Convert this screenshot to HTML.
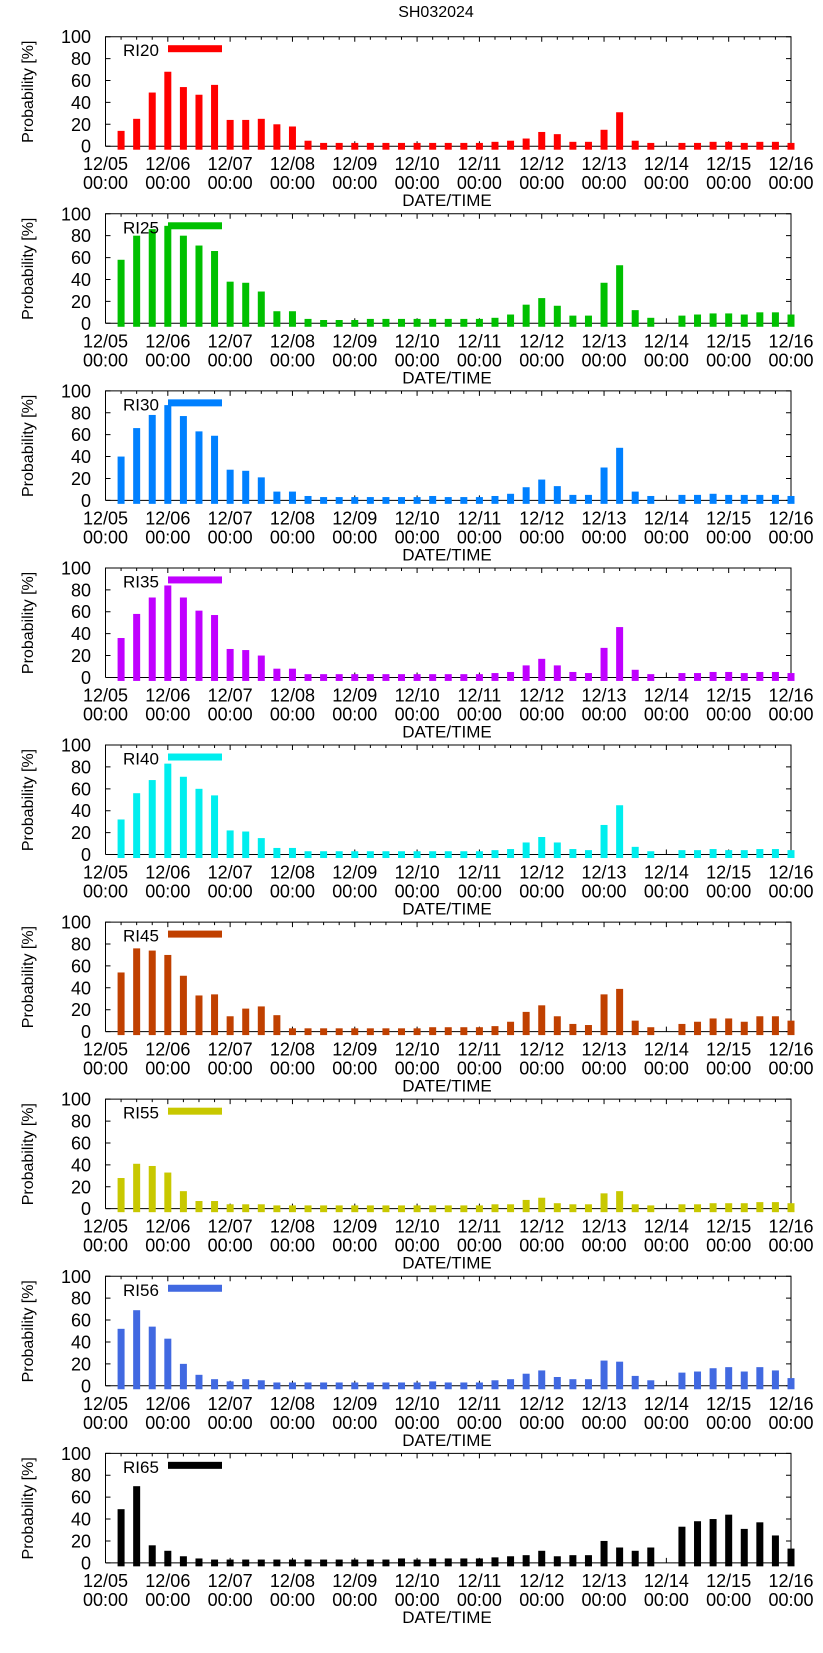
<!DOCTYPE html>
<html><head><meta charset="utf-8"><title>SH032024</title>
<style>
html,body{margin:0;padding:0;background:#fff;}
svg{display:block;font-family:"Liberation Sans",sans-serif;}
</style></head>
<body>
<svg id="chart" width="823" height="1653" viewBox="0 0 823 1653" xmlns="http://www.w3.org/2000/svg">
<text x="436" y="17" text-anchor="middle" font-size="16">SH032024</text>
</svg>
<script>
const panelNames = ["RI20","RI25","RI30","RI35","RI40","RI45","RI55","RI56","RI65"];
const panelColors = ["#ff0000","#00c000","#0080ff","#c000ff","#00eeee","#c04000","#c8c800","#4169e1","#000000"];
const ri20 = [14,25,49,68,54,47,56,24,24,25,20,18,5,3,3,3,3,3,3,3,3,3,3,3,4,5,7,13,11,4,4,15,31,5,3,0,3,3,4,4,3,4,4,3];
const ri25 = [58,80,86,89,80,71,66,38,37,29,11,11,4,3,3,3,4,4,4,4,4,4,4,4,5,8,17,23,16,7,7,37,53,12,5,0,7,8,9,9,8,10,10,8];
const ri30 = [40,66,78,87,77,63,59,28,27,21,8,8,4,3,3,3,3,3,3,3,4,3,3,3,4,6,12,19,13,5,5,30,48,8,4,0,5,5,6,5,5,5,5,4];
const ri35 = [36,58,73,84,73,61,57,26,25,20,8,8,3,3,3,3,3,3,3,3,3,3,3,3,4,5,11,17,11,5,4,27,46,7,3,0,4,4,5,5,4,5,5,4];
const ri40 = [32,56,68,83,71,60,54,22,21,15,6,6,3,3,3,3,3,3,3,3,3,3,3,3,4,5,11,16,11,5,4,27,45,7,3,0,4,4,5,4,4,5,5,4];
const ri45 = [54,76,74,70,51,33,34,14,21,23,15,3,3,3,3,3,3,3,3,3,4,4,4,4,5,9,18,24,14,7,6,34,39,10,4,0,7,9,12,12,9,14,14,10];
const ri55 = [28,41,39,33,16,7,7,4,4,4,3,3,3,3,3,3,3,3,3,3,3,3,3,3,4,4,8,10,5,4,4,14,16,4,3,0,4,4,5,5,5,6,6,5];
const ri56 = [52,69,54,43,20,10,6,4,6,5,3,3,3,3,3,3,3,3,3,3,4,3,3,3,5,6,11,14,8,6,6,23,22,9,5,0,12,13,16,17,13,17,14,7];
const ri65 = [49,70,16,11,6,4,3,3,3,3,3,3,3,3,3,3,3,3,4,3,4,4,4,4,5,6,7,11,6,7,7,20,14,11,14,0,33,38,40,44,31,37,25,13];
const seriesValues = [ri20,ri25,ri30,ri35,ri40,ri45,ri55,ri56,ri65];
const yTickLabels = ["0","20","40","60","80","100"];
const yTickValues = [0,20,40,60,80,100];
const dateLabels = ["12/05","12/06","12/07","12/08","12/09","12/10","12/11","12/12","12/13","12/14","12/15","12/16"];
const timeLabel = "00:00";

const svg = document.getElementById('chart');
const NS = "http://www.w3.org/2000/svg";
const X0 = 105.5, X1 = 791, PH = 109.5, TOP0 = 36.7, STEP = 177.08;
const NDAYS = dateLabels.length - 1;
const BARW = 7;
function xHours(h){ return X0 + (X1 - X0) * h / (NDAYS * 24); }
function mk(tag, attrs){ const e = document.createElementNS(NS, tag); for (const k in attrs) e.setAttribute(k, attrs[k]); return e; }

seriesValues.forEach((vals, p) => {
  const top = TOP0 + STEP * p;
  const zero = top + PH;
  const yv = v => zero - v / 100 * PH;
  const g = mk('g', {});
  
  
  svg.appendChild(g);

  // frame
  const fr = mk('path', {d: `M${X0} ${zero}V${top}H${X1}V${zero}H${X0}`, fill: 'none', stroke: '#000', 'stroke-width': 1});
  
  
  g.appendChild(fr);

  // y ticks
  yTickValues.forEach((t, k) => {
    const y = yv(t);
    g.appendChild(mk('path', {d: `M${X0} ${y}h5M${X1} ${y}h-5`, stroke: '#000', 'stroke-width': 1}));
    const tl = mk('text', {x: 91, y: y + 6.5, 'text-anchor': 'end', 'font-size': 18});
    tl.textContent = yTickLabels[k];
    
    
    g.appendChild(tl);
  });

  // x ticks
  for (let h = 0; h <= NDAYS * 24; h += 6) {
    const x = xHours(h);
    const len = (h % 24 === 0) ? 5 : 3;
    g.appendChild(mk('path', {d: `M${x} ${top}v${len}M${x} ${zero}v${-len}`, stroke: '#000', 'stroke-width': 1}));
  }
  dateLabels.forEach((d, k) => {
    const x = xHours(k * 24);
    const t1 = mk('text', {x: x, y: top + 133.5, 'text-anchor': 'middle', 'font-size': 18});
    t1.textContent = d;
    
    
    g.appendChild(t1);
    const t2 = mk('text', {x: x, y: top + 152.5, 'text-anchor': 'middle', 'font-size': 18});
    t2.textContent = timeLabel;
    
    
    g.appendChild(t2);
  });

  // bars (drawn over ticks)
  vals.forEach((v, i) => {
    if (v <= 0) return;
    const cx = xHours((i + 1) * 6);
    const r = mk('rect', {x: cx - BARW/2, y: yv(v), width: BARW, height: zero - yv(v) + 3.5, fill: panelColors[p]});
    
    
    g.appendChild(r);
  });

  const xt = mk('text', {x: 447, y: top + 169.5, 'text-anchor': 'middle', 'font-size': 17});
  xt.textContent = "DATE/TIME";
  
  
  g.appendChild(xt);

  const yt = mk('text', {x: 0, y: 0, 'text-anchor': 'middle', 'font-size': 16, transform: `translate(33 ${top + 55}) rotate(-90)`});
  yt.textContent = "Probability [%]";
  
  
  g.appendChild(yt);

  // legend
  const lt = mk('text', {x: 123, y: top + 19.5, 'font-size': 17});
  lt.textContent = panelNames[p];
  
  
  g.appendChild(lt);
  const ls = mk('rect', {x: 168, y: top + 8.5, width: 54, height: 7, fill: panelColors[p]});
  
  
  g.appendChild(ls);
});
</script>
</body></html>
